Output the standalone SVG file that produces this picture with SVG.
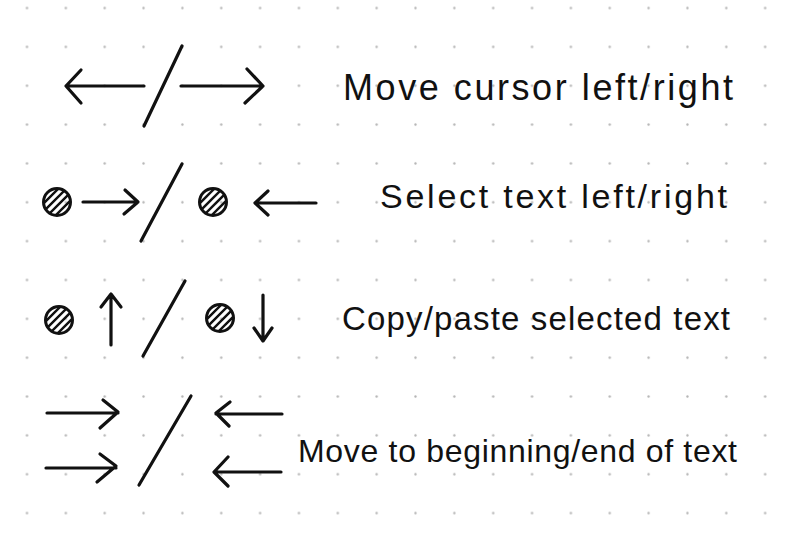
<svg xmlns="http://www.w3.org/2000/svg" xmlns:xlink="http://www.w3.org/1999/xlink" width="796" height="544" viewBox="0 0 796 544">
<style>
.s{fill:none;stroke:#111;stroke-width:3.2;stroke-linecap:round;stroke-linejoin:round}
.t{font-family:"Liberation Sans","Noto Sans",sans-serif;fill:#111}
</style>
<defs>
<pattern id="dots" patternUnits="userSpaceOnUse" x="7.6" y="-11.4" width="38.85" height="38.85">
<circle cx="19.4" cy="19.4" r="1.2" fill="#b5b5b5"/>
</pattern>
<clipPath id="cc"><circle cx="0" cy="0" r="13"/></clipPath>
<g id="hc">
<g clip-path="url(#cc)" stroke="#111" stroke-width="2.4" stroke-linecap="round">
<line x1="-20" y1="8" x2="8" y2="-20"/>
<line x1="-20" y1="16" x2="16" y2="-20"/>
<line x1="-20" y1="24" x2="24" y2="-20"/>
<line x1="-20" y1="32" x2="32" y2="-20"/>
</g>
<circle cx="0" cy="0" r="13.5" fill="none" stroke="#111" stroke-width="3"/>
</g>
</defs>
<rect width="796" height="544" fill="#fff"/>
<rect width="796" height="544" fill="url(#dots)"/>

<g id="row1">
<path class="s" d="M144,86 H67 M81,70 L66,86 L81,103"/>
<path class="s" d="M182,46 L144,126"/>
<path class="s" d="M181,86 H263 M247,69 L263,86 L245,103"/>
<text class="t" x="343" y="100" font-size="36" textLength="390" lengthAdjust="spacing">Move cursor left/right</text>
</g>

<g id="row2">
<use xlink:href="#hc" transform="translate(57,202)"/>
<path class="s" d="M83,202 H138 M125,190 L138,202 L124,214"/>
<path class="s" d="M182,164 L141,241"/>
<use xlink:href="#hc" transform="translate(213,202)"/>
<path class="s" d="M316,203 H256 M268,191 L255,203 L268,215"/>
<text class="t" x="380" y="208" font-size="34" textLength="347" lengthAdjust="spacing">Select text left/right</text>
</g>

<g id="row3">
<use xlink:href="#hc" transform="translate(59,320)"/>
<path class="s" d="M111,345 V294 M101,307 L111,294 L121,307"/>
<path class="s" d="M185,281 L143,356"/>
<use xlink:href="#hc" transform="translate(220,318)"/>
<path class="s" d="M263,295 V341 M254,328 L263,341 L272,328"/>
<text class="t" x="342" y="330" font-size="33" textLength="388" lengthAdjust="spacing">Copy/paste selected text</text>
</g>

<g id="row4">
<path class="s" d="M47,413 H118 M103,400 L118,412 L100,428"/>
<path class="s" d="M46,468 H116 M100,454 L116,466 L97,482"/>
<path class="s" d="M191,396 L139,485"/>
<path class="s" d="M282,414 H216 M230,402 L216,413 L229,426"/>
<path class="s" d="M281,472 H215 M228,457 L214,472 L228,486"/>
<text class="t" x="298" y="462" font-size="32" textLength="439" lengthAdjust="spacing">Move to beginning/end of text</text>
</g>
</svg>
